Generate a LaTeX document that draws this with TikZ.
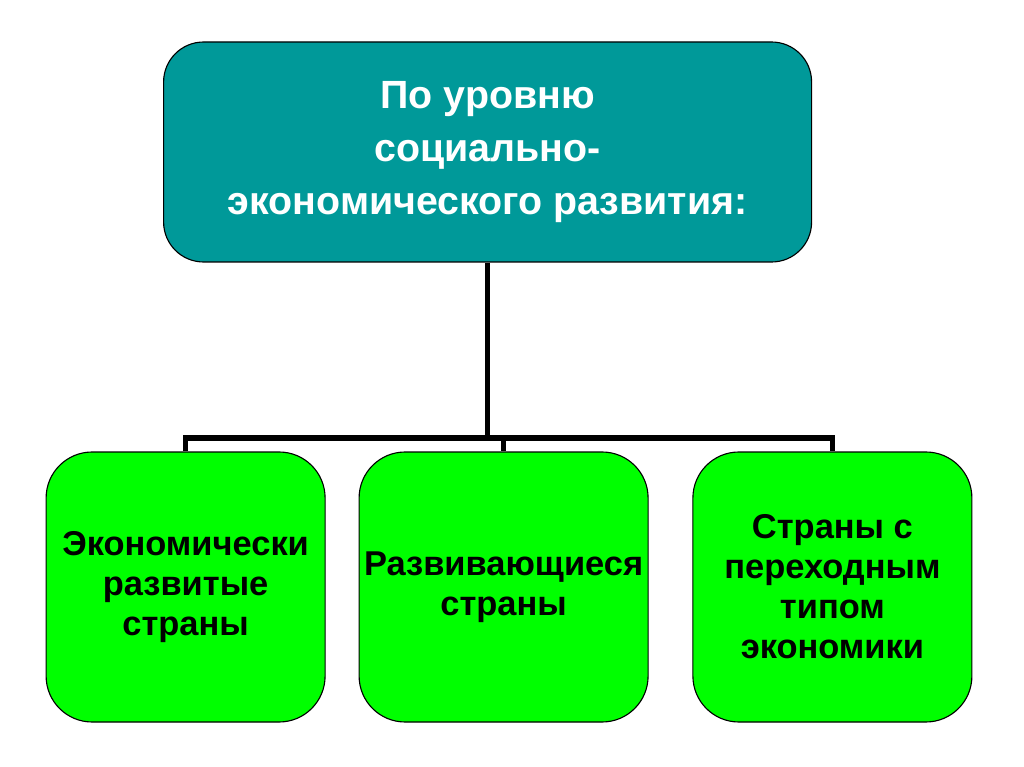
\documentclass[tikz,border=0pt]{standalone}
\usepackage{fontspec}
\setmainfont{Liberation Sans}
\usepackage{xcolor}
\usetikzlibrary{positioning,calc}
\definecolor{tealbox}{RGB}{0,153,153}
\definecolor{greenbox}{RGB}{0,255,0}

\begin{document}
\begin{tikzpicture}[
    header/.style={rectangle, rounded corners=1cm, minimum width=16.2cm, minimum height=5.5cm, align=center, draw=black, line width=0.8pt, fill=tealbox, text=white, font=\fontsize{28}{37.5}\selectfont\bfseries},
    category/.style={rectangle, rounded corners=1.15cm, minimum height=6.75cm, align=center, draw=black, line width=0.8pt, fill=greenbox, font=\fontsize{24.5}{28.5}\selectfont\bfseries},
    link/.style={line width=3.6pt}
]
\useasboundingbox (0,0) rectangle (25.6,-19.175);

% Boxes
\node[header] (level) at (12.19,-3.8) {По уровню\\социально-\\экономического развития:};
\node[category, minimum width=6.975cm] (developed) at (4.64,-14.675) {Экономически\\развитые\\страны};
\node[category, minimum width=7.225cm] (developing) at (12.59,-14.675) {Развивающиеся\\страны};
\node[category, minimum width=6.975cm] (transition) at (20.81,-14.675) {Страны с\\переходным\\типом\\экономики};

% Connectors
\coordinate (bus) at (0,-10.95);
\draw[link] (level.south) -- (level.south |- bus);
\draw[link] (developed.north) -- (developed.north |- bus) -- (transition.north |- bus) -- (transition.north);
\draw[link] (developing.north |- bus) -- (developing.north);

\end{tikzpicture}
\end{document}
